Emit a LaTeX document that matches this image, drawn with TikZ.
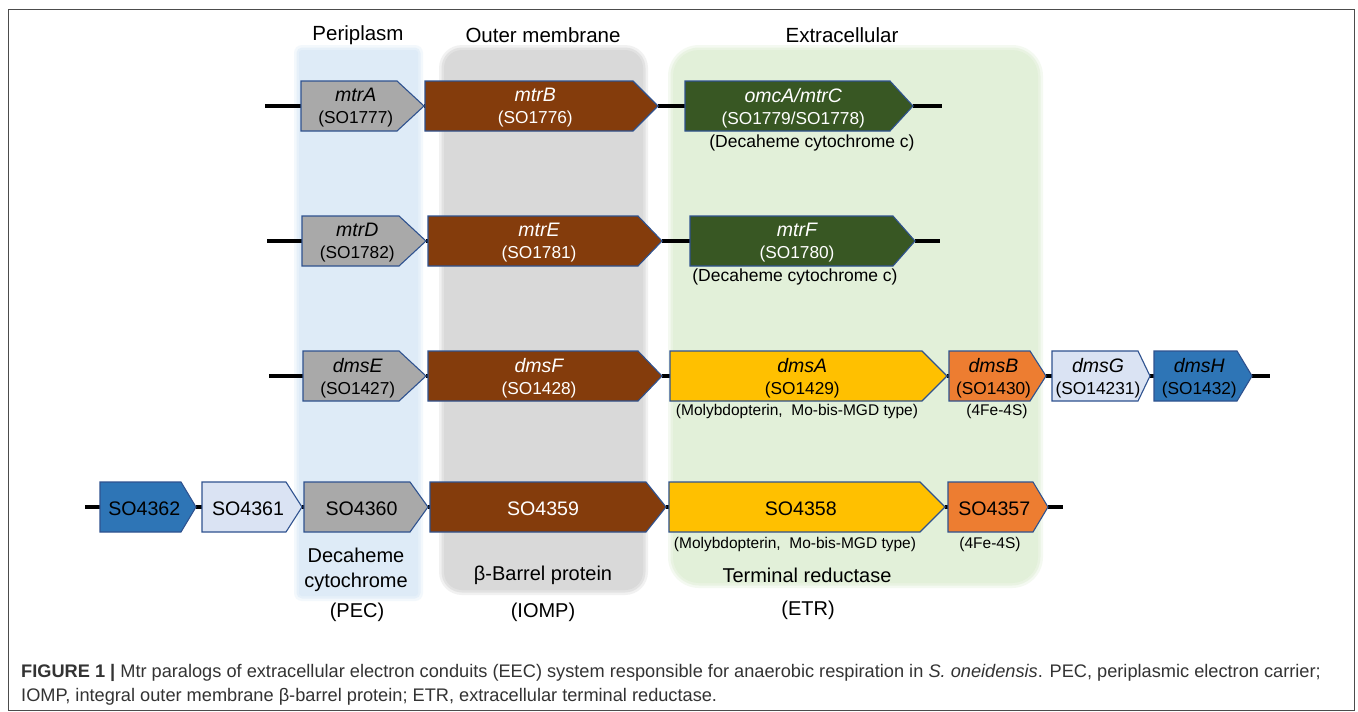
\documentclass[tikz,border=0pt]{standalone}
\usepackage{fontspec}
\setmainfont{Liberation Sans}
\definecolor{gbox}{HTML}{A9A9A9}
\definecolor{brownbox}{HTML}{843C0C}
\definecolor{greenbox}{HTML}{385723}
\definecolor{yellowbox}{HTML}{FFC000}
\definecolor{orangebox}{HTML}{ED7D31}
\definecolor{lbluebox}{HTML}{DAE3F3}
\definecolor{bluebox}{HTML}{2E75B6}
\definecolor{outl}{HTML}{2F528F}
\definecolor{bgblue}{HTML}{DEEBF7}
\definecolor{bggray}{HTML}{D9D9D9}
\definecolor{bggreen}{HTML}{E2F0D9}
\definecolor{captxt}{HTML}{333333}
\pgfdeclarelayer{bg}
\pgfsetlayers{bg,main}
\tikzset{
  dna/.style={line width=4pt, black},
  genebox/.style={draw=outl, line width=1.1pt, line join=miter},
  genetxt/.style={font=\fontsize{17.3}{22}\selectfont, align=center, inner sep=0pt},
  bigtxt/.style={font=\fontsize{19.6}{23}\selectfont, inner sep=0pt},
  regionlbl/.style={font=\fontsize{20.5}{25}\selectfont, inner sep=0pt},
  annot/.style={font=\fontsize{17.5}{21}\selectfont, inner sep=0pt},
  smallannot/.style={font=\fontsize{15.5}{19}\selectfont, inner sep=0pt},
  captionline/.style={font=\fontsize{18.2}{22}\selectfont, text=captxt, inner sep=0pt, anchor=west},
}
\newcommand\gname[1]{{\fontsize{19.5}{22}\selectfont\itshape #1}}
% name, x1, xs, xt, y, fill, text style, text
\newcommand\gene[8]{%
  \path[genebox,fill=#6] (#2,#5-25) -- (#3,#5-25) -- (#4,#5) -- (#3,#5+25) -- (#2,#5+25) -- cycle;
  \coordinate (#1-w) at (#2,#5);
  \coordinate (#1-e) at (#4,#5);
  \node[#7] (#1) at ({(2*#2+#3+#4)/4},#5+2) {#8};
}
% soft-edged region: colour, x1, y1, x2, y2, radius
\newcommand\region[6]{%
  \fill[#1, opacity=0.35, rounded corners=#6+5pt] (#2-5,#3-5) rectangle (#4+5,#5+5);
  \fill[#1, opacity=0.6, rounded corners=#6+2.5pt] (#2-2.5,#3-2.5) rectangle (#4+2.5,#5+2.5);
  \fill[#1, rounded corners=#6] (#2,#3) rectangle (#4,#5);
}
\begin{document}
\begin{tikzpicture}[x=1pt,y=-1pt]
\useasboundingbox (0,0) rectangle (1358,712);

% regions
\begin{pgfonlayer}{bg}
  \fill[white] (0,0) rectangle (1358,712);
  \region{bgblue}{299}{50}{418}{596}{3pt}
  \region{bggray}{444}{50}{643}{590}{18pt}
  \region{bggreen}{673}{50}{1038}{583}{26pt}
\end{pgfonlayer}
\draw[line width=1.5pt, black!70] (8.5,9.5) rectangle (1354.5,710.5);

\node[regionlbl] (lperi) at (358,35) {Periplasm};
\node[regionlbl] (lom) at (543,35) {Outer membrane};
\node[regionlbl] (lext) at (842,35) {Extracellular};

% row 1
\gene{mtrA}{301}{397}{424}{106}{gbox}{genetxt}{\gname{mtrA}\\(SO1777)}
\gene{mtrB}{425}{633}{658}{106}{brownbox}{genetxt,text=white}{\gname{mtrB}\\(SO1776)}
\gene{omcA}{685}{890}{913}{106}{greenbox}{genetxt,text=white}{\gname{omcA/mtrC}\\(SO1779/SO1778)}
\node[annot] (dc1) at (812,143) {(Decaheme cytochrome c)};
\coordinate (r1s) at (265,106);
\coordinate (r1e) at (942,106);

% row 2
\gene{mtrD}{302}{399}{426}{241}{gbox}{genetxt}{\gname{mtrD}\\(SO1782)}
\gene{mtrE}{428}{638}{662}{241}{brownbox}{genetxt,text=white}{\gname{mtrE}\\(SO1781)}
\gene{mtrF}{690}{893}{915}{241}{greenbox}{genetxt,text=white}{\gname{mtrF}\\(SO1780)}
\node[annot] (dc2) at (795,277) {(Decaheme cytochrome c)};
\coordinate (r2s) at (267,241);
\coordinate (r2e) at (940,241);

% row 3
\gene{dmsE}{303}{399}{426}{376}{gbox}{genetxt}{\gname{dmsE}\\(SO1427)}
\gene{dmsF}{428}{638}{662}{376}{brownbox}{genetxt,text=white}{\gname{dmsF}\\(SO1428)}
\gene{dmsA}{670}{922}{947}{376}{yellowbox}{genetxt}{\gname{dmsA}\\(SO1429)}
\gene{dmsB}{949}{1030}{1046}{376}{orangebox}{genetxt}{\gname{dmsB}\\(SO1430)}
\gene{dmsG}{1052}{1138}{1150}{376}{lbluebox}{genetxt}{\gname{dmsG}\\(SO14231)}
\gene{dmsH}{1154}{1237}{1252}{376}{bluebox}{genetxt}{\gname{dmsH}\\(SO1432)}
\node[smallannot] (mo1) at (797,411) {(Molybdopterin,\ \ Mo-bis-MGD type)};
\node[smallannot] (fe1) at (997,411) {(4Fe-4S)};
\coordinate (r3s) at (269,376);
\coordinate (r3e) at (1270,376);

% row 4
\gene{s62}{100}{181}{196}{507}{bluebox}{bigtxt}{SO4362}
\gene{s61}{202}{286}{302}{507}{lbluebox}{bigtxt}{SO4361}
\gene{s60}{304}{410}{428}{507}{gbox}{bigtxt}{SO4360}
\gene{s59}{430}{646}{666}{507}{brownbox}{bigtxt,text=white}{SO4359}
\gene{s58}{669}{920}{945}{507}{yellowbox}{bigtxt}{SO4358}
\gene{s57}{948}{1033}{1048}{507}{orangebox}{bigtxt}{SO4357}
\node[smallannot] (mo2) at (795,544) {(Molybdopterin,\ \ Mo-bis-MGD type)};
\node[smallannot] (fe2) at (990,544) {(4Fe-4S)};
\coordinate (r4s) at (85,507);
\coordinate (r4e) at (1063,507);

% bottom labels
\node[regionlbl, font=\fontsize{20}{25}\selectfont, align=center] (pec) at (356,570) {Decaheme\\cytochrome};
\node[regionlbl, font=\fontsize{20}{25}\selectfont] (pecab) at (357,612) {(PEC)};
\node[regionlbl, font=\fontsize{20}{25}\selectfont] (bbp) at (543,575) {β-Barrel protein};
\node[regionlbl, font=\fontsize{20}{25}\selectfont] (iomp) at (543,612) {(IOMP)};
\node[regionlbl, font=\fontsize{20}{25}\selectfont] (trd) at (807,575) {Terminal reductase};
\node[regionlbl, font=\fontsize{20}{25}\selectfont] (etr) at (808,610) {(ETR)};

% DNA backbone connectors
\begin{pgfonlayer}{bg}
  \draw[dna] (r1s) -- (mtrA-w) (mtrA-e) -- (mtrB-w) (mtrB-e) -- (omcA-w) (omcA-e) -- (r1e);
  \draw[dna] (r2s) -- (mtrD-w) (mtrD-e) -- (mtrE-w) (mtrE-e) -- (mtrF-w) (mtrF-e) -- (r2e);
  \draw[dna] (r3s) -- (dmsE-w) (dmsE-e) -- (dmsF-w) (dmsF-e) -- (dmsA-w) (dmsA-e) -- (dmsB-w)
             (dmsB-e) -- (dmsG-w) (dmsG-e) -- (dmsH-w) (dmsH-e) -- (r3e);
  \draw[dna] (r4s) -- (s62-w) (s62-e) -- (s61-w) (s61-e) -- (s60-w) (s60-e) -- (s59-w)
             (s59-e) -- (s58-w) (s58-e) -- (s57-w) (s57-e) -- (r4e);
\end{pgfonlayer}

% caption
\node[captionline] (cap1) at (21,673) {\textbf{FIGURE 1 |} Mtr paralogs of extracellular electron conduits (EEC) system responsible for anaerobic respiration in \textit{S. oneidensis}. PEC, periplasmic electron carrier;};
\node[captionline] (cap2) at (21,697) {IOMP, integral outer membrane β-barrel protein; ETR, extracellular terminal reductase.};
\end{tikzpicture}
\end{document}
